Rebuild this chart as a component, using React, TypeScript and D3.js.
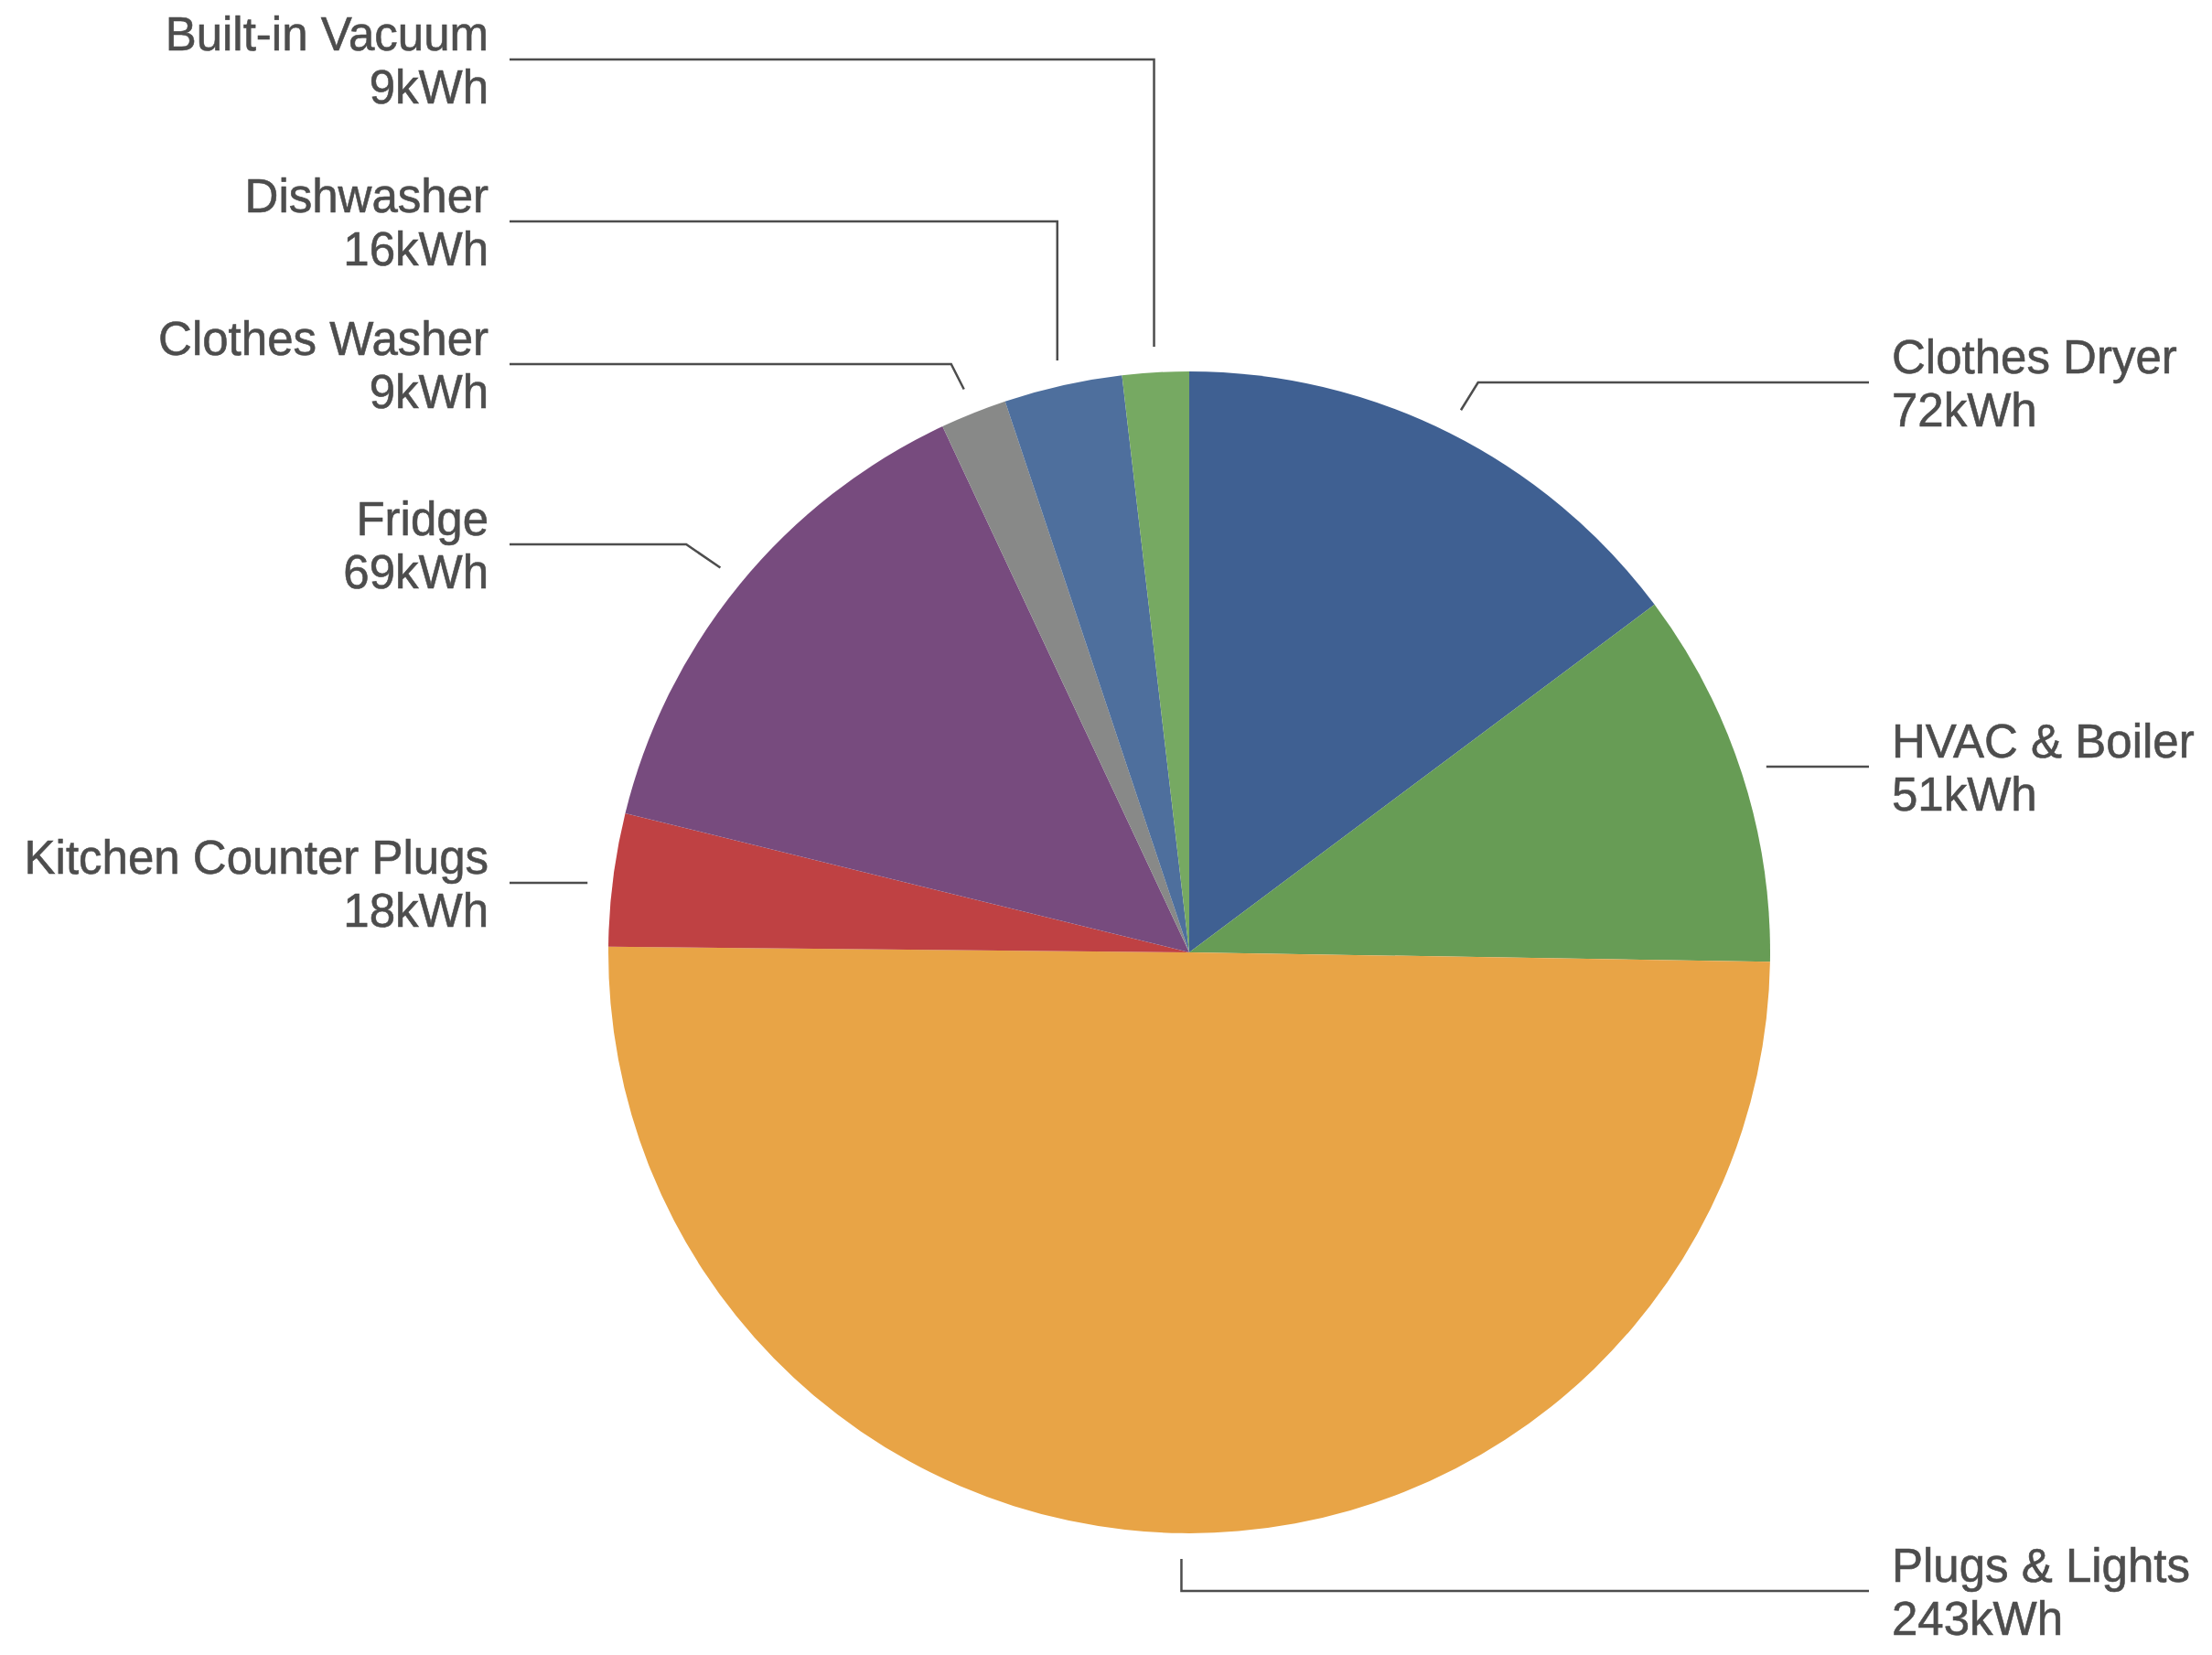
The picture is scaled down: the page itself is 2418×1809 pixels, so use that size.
import React from "react";
import * as d3 from "d3";

// slices, clockwise from 12 o'clock
const categories = [
  "Clothes Dryer",
  "HVAC & Boiler",
  "Plugs & Lights",
  "Kitchen Counter Plugs",
  "Fridge",
  "Clothes Washer",
  "Dishwasher",
  "Built-in Vacuum",
];
const usage = [72, 51, 243, 18, 69, 9, 16, 9];
const colors = [
  "#3f6092",
  "#679c55",
  "#e8a446",
  "#bf4143",
  "#774b7e",
  "#888988",
  "#4e6f9d",
  "#76a962",
];

// label placement: side, y of the leader's horizontal run, leader shape
const labelLayout: Record<string, { side: "left" | "right"; lineY: number; kind: "h" | "v" | "d" }> = {
  "Clothes Dryer": { side: "right", lineY: 418, kind: "d" },
  "HVAC & Boiler": { side: "right", lineY: 838, kind: "h" },
  "Plugs & Lights": { side: "right", lineY: 1739, kind: "v" },
  "Kitchen Counter Plugs": { side: "left", lineY: 965, kind: "h" },
  "Fridge": { side: "left", lineY: 595, kind: "d" },
  "Clothes Washer": { side: "left", lineY: 398, kind: "d" },
  "Dishwasher": { side: "left", lineY: 242, kind: "v" },
  "Built-in Vacuum": { side: "left", lineY: 65, kind: "v" },
};

const W = 2418;
const H = 1809;
const cx = 1300;
const cy = 1041;
const R = 635;
const leadR = 663;
const rightLineEnd = 2043;
const rightTextX = 2068;
const leftLineStart = 557;
const leftTextX = 534;
const ink = "#4d4d4d";

export default function App() {
  const data = categories.map((c, i) => ({ name: c, value: usage[i], color: colors[i] }));
  const pie = d3.pie<any>().sort(null).value((d) => d.value);
  const arcs = pie(data);
  const arc = d3.arc<any>().innerRadius(0).outerRadius(R);

  return (
    <svg
      width={W}
      height={H}
      style={{ position: "absolute", left: 0, top: 0, background: "#fff" }}
      fontFamily="'Liberation Sans', Arial, Helvetica, sans-serif"
    >
      <g transform={`translate(${cx},${cy})`}>
        {arcs.map((a, i) => (
          <path key={i} d={arc(a) as string} fill={a.data.color} />
        ))}
      </g>
      {arcs.map((a, i) => {
        const lay = labelLayout[a.data.name];
        const mid = (a.startAngle + a.endAngle) / 2;
        const sx = cx + Math.sin(mid) * leadR;
        const sy = cy - Math.cos(mid) * leadR;
        const endX = lay.side === "right" ? rightLineEnd : leftLineStart;
        let pts: [number, number][];
        if (lay.kind === "h") {
          pts = [[sx, lay.lineY], [endX, lay.lineY]];
        } else if (lay.kind === "v") {
          pts = [[sx, sy], [sx, lay.lineY], [endX, lay.lineY]];
        } else {
          // run out along the slice's mid-angle to the label row
          const r2 = (cy - lay.lineY) / Math.cos(mid) + 8;
          const ex = cx + Math.sin(mid) * r2;
          pts = [[sx, sy], [ex, lay.lineY], [endX, lay.lineY]];
        }
        const line = d3.line();
        const tx = lay.side === "right" ? rightTextX : leftTextX;
        const anchor = lay.side === "right" ? "start" : "end";
        return (
          <g key={"l" + i}>
            <path d={line(pts) as string} fill="none" stroke={ink} strokeWidth={2.5} />
            <g fontSize={51} fill={ink} stroke={ink} strokeWidth={0.6} textAnchor={anchor}>
              <text x={tx} y={lay.lineY - 10}>{a.data.name}</text>
              <text x={tx} y={lay.lineY + 48}>{a.data.value + "kWh"}</text>
            </g>
          </g>
        );
      })}
    </svg>
  );
}
